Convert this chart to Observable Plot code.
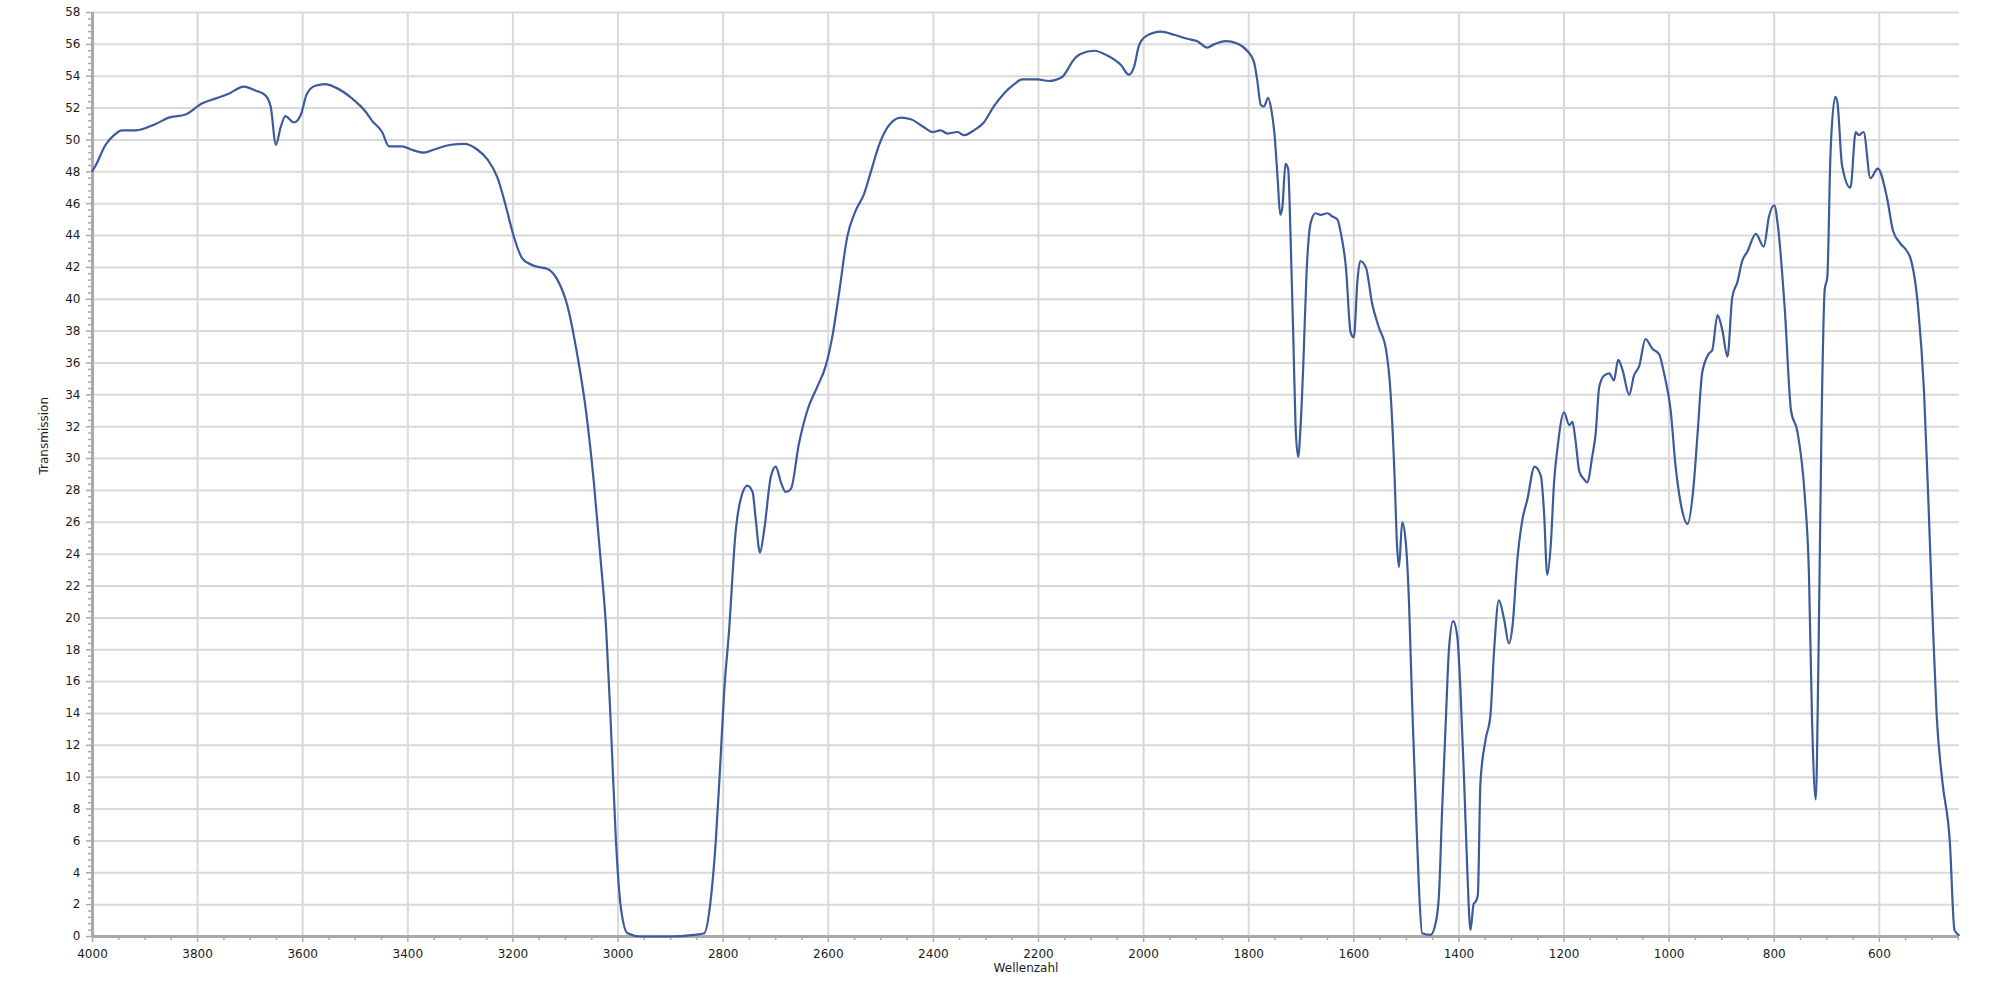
<!DOCTYPE html>
<html>
<head>
<meta charset="utf-8">
<script src="https://cdn.jsdelivr.net/npm/d3@7"></script>
<script src="https://cdn.jsdelivr.net/npm/@observablehq/plot@0.6"></script>
<style>
  html, body { margin: 0; padding: 0; background: #ffffff; }
  #chart { width: 2000px; height: 1000px; }
</style>
</head>
<body>
<div id="chart"></div>
<script>
// Wavenumbers (cm-1)
const wavenumbers = [
  4000, 3994, 3975, 3959, 3944, 3918, 3880, 3855, 3823, 3791, 3766, 3741, 3712, 3690, 3671, 3661, 3651, 3642, 3633, 3617,
  3604, 3592, 3576, 3557, 3538, 3506, 3481, 3468, 3449, 3436, 3411, 3394, 3369, 3350, 3318, 3293, 3268, 3249, 3229, 3214,
  3198, 3182, 3160, 3134, 3115, 3096, 3077, 3061, 3046, 3033, 3023, 3014, 3004, 2995, 2982, 2957, 2906, 2855, 2836, 2824,
  2814, 2806, 2798, 2789, 2776, 2767, 2754, 2744, 2738, 2730, 2722, 2709, 2700, 2690, 2681, 2671, 2656, 2640, 2621, 2605,
  2592, 2579, 2564, 2548, 2532, 2519, 2503, 2487, 2462, 2443, 2418, 2402, 2386, 2373, 2354, 2342, 2323, 2304, 2285, 2266,
  2246, 2231, 2202, 2180, 2155, 2145, 2136, 2120, 2094, 2069, 2043, 2028, 2018, 2009, 1996, 1967, 1942, 1917, 1898, 1879,
  1866, 1844, 1822, 1803, 1790, 1784, 1777, 1771, 1763, 1757, 1751, 1745, 1740, 1736, 1730, 1725, 1720, 1715, 1711, 1706,
  1701, 1696, 1690, 1682, 1673, 1663, 1650, 1641, 1631, 1625, 1615, 1606, 1600, 1593, 1588, 1577, 1565, 1552, 1539, 1530,
  1522, 1518, 1514, 1508, 1501, 1495, 1489, 1482, 1476, 1470, 1454, 1444, 1438, 1432, 1425, 1419, 1411, 1403, 1397, 1390,
  1384, 1378, 1372, 1368, 1364, 1359, 1349, 1340, 1333, 1324, 1314, 1305, 1298, 1289, 1279, 1270, 1256, 1244, 1238, 1232,
  1225, 1219, 1213, 1200, 1190, 1184, 1178, 1171, 1162, 1156, 1146, 1140, 1133, 1124, 1114, 1105, 1097, 1089, 1076, 1067,
  1057, 1045, 1032, 1019, 1010, 997, 988, 978, 965, 954, 946, 937, 924, 918, 908, 899, 889, 880, 870, 861,
  851, 835, 820, 810, 800, 793, 780, 768, 756, 742, 734, 728, 721, 716, 710, 704, 699, 693, 684, 680,
  671, 655, 645, 639, 630, 617, 603, 585, 574, 560, 547, 541, 526, 515, 506, 499, 491, 480, 466, 457,
  449
];

// Transmission values (%) at the wavenumbers above
const transmission = [
  48.06, 48.4, 49.7, 50.3, 50.6, 50.6, 51.0, 51.4, 51.6, 52.3, 52.6, 52.9, 53.35, 53.1, 52.8, 52.1, 49.7, 50.8, 51.5, 51.1,
  51.55, 52.9, 53.4, 53.5, 53.3, 52.6, 51.8, 51.2, 50.5, 49.6, 49.6, 49.4, 49.2, 49.4, 49.7, 49.75, 49.4, 48.8, 47.6, 45.9,
  43.9, 42.55, 42.1, 41.9, 41.2, 39.55, 36.4, 33.0, 28.5, 23.6, 19.5, 13.5, 6.0, 1.9, 0.2, 0.0, 0.0, 0.1, 0.2, 2.2,
  6.0, 10.5, 15.4, 19.1, 25.5, 27.4, 28.3, 27.9, 26.2, 24.1, 25.5, 28.9, 29.5, 28.5, 27.9, 28.1, 30.9, 33.0, 34.5, 35.8,
  37.7, 40.5, 43.9, 45.55, 46.6, 48.0, 49.7, 50.8, 51.4, 51.3, 50.8, 50.5, 50.6, 50.4, 50.5, 50.3, 50.6, 51.1, 52.1, 52.9,
  53.5, 53.8, 53.8, 53.7, 53.95, 54.4, 54.9, 55.4, 55.6, 55.3, 54.7, 54.1, 54.6, 55.9, 56.5, 56.8, 56.6, 56.35, 56.2, 55.8,
  56.0, 56.2, 56.05, 55.6, 54.9, 53.8, 52.2, 52.1, 52.65, 51.9, 50.4, 47.6, 45.3, 45.75, 48.5, 48.2, 43.5, 37.5, 32.2, 30.1,
  32.2, 36.0, 41.6, 44.8, 45.4, 45.3, 45.4, 45.2, 45.0, 44.2, 42.0, 37.9, 37.6, 41.2, 42.4, 42.0, 39.7, 38.2, 36.9, 34.1,
  28.5, 24.7, 23.2, 26.0, 24.7, 21.0, 14.6, 8.2, 3.0, 0.2, 0.1, 0.9, 2.6, 7.9, 13.5, 18.0, 19.8, 18.8, 15.4, 9.7,
  4.1, 0.4, 2.05, 2.2, 2.6, 9.7, 12.4, 13.9, 18.0, 21.1, 19.9, 18.4, 19.5, 23.6, 26.2, 27.4, 29.5, 28.9, 26.6, 22.7,
  24.7, 28.5, 30.5, 32.9, 32.1, 32.3, 31.1, 29.2, 28.7, 28.5, 30.2, 31.5, 34.5, 35.2, 35.35, 34.9, 36.2, 35.6, 34.0, 35.2,
  35.8, 37.5, 36.9, 36.55, 35.4, 33.0, 29.6, 27.2, 25.9, 28.1, 31.5, 35.4, 36.6, 36.8, 39.0, 38.1, 36.4, 40.1, 41.1, 42.4,
  43.0, 44.1, 43.3, 45.2, 45.9, 44.6, 39.4, 33.0, 31.7, 27.7, 22.8, 13.5, 8.6, 17.2, 32.2, 40.6, 41.4, 49.1, 52.7, 52.4,
  48.4, 47.0, 50.5, 50.3, 50.5, 47.6, 48.2, 46.3, 44.3, 43.5, 43.0, 42.6, 39.4, 34.2, 26.7, 20.3, 13.9, 9.7, 6.0, 0.4,
  0.1
];

// Axis ticks
const xTicks = [4000, 3800, 3600, 3400, 3200, 3000, 2800, 2600, 2400, 2200, 2000, 1800, 1600, 1400, 1200, 1000, 800, 600];
const yTicks = [0, 2, 4, 6, 8, 10, 12, 14, 16, 18, 20, 22, 24, 26, 28, 30, 32, 34, 36, 38, 40, 42, 44, 46, 48, 50, 52, 54, 56, 58];
const xDomain = [4000, 447.5];
const yDomain = [0, 58];
const xLabel = "Wellenzahl";
const yLabel = "Transmission";

const xMinor = d3.range(3950, 447, -50).filter(v => v % 200 !== 0);
const yMinor = d3.range(0, 146).filter(i => i % 5 !== 0).map(i => +(i * 0.4).toFixed(1));

const spectrum = wavenumbers.map((w, i) => ({w, t: transmission[i]}));

const axisGray = "#a9a9a9";
const gridGray = "#d9d9d9";
const textColor = "#1c1c1c";

const chart = Plot.plot({
  width: 2000,
  height: 1000,
  marginLeft: 92,
  marginRight: 41,
  marginTop: 12,
  marginBottom: 64,
  style: {fontFamily: "DejaVu Sans", fontSize: "12px", background: "#ffffff", color: textColor},
  x: {domain: xDomain, axis: null, label: null},
  y: {domain: yDomain, axis: null, label: null},
  marks: [
    Plot.gridX(xTicks, {stroke: gridGray, strokeOpacity: 1, strokeWidth: 2}),
    Plot.gridY(yTicks, {stroke: gridGray, strokeOpacity: 1, strokeWidth: 2}),
    Plot.axisX(xMinor, {tickSize: 4, tickFormat: () => "", label: null, stroke: axisGray, strokeWidth: 1.5}),
    Plot.axisY(yMinor, {tickSize: 4, tickFormat: () => "", label: null, stroke: axisGray, strokeWidth: 1.5}),
    Plot.axisX(xTicks, {tickSize: 6, tickPadding: 7, tickFormat: d => String(d), label: null, stroke: axisGray, strokeWidth: 1.5, fill: textColor, fontSize: 12}),
    Plot.axisY(yTicks, {tickSize: 6, tickPadding: 6, tickFormat: d => String(d), label: null, stroke: axisGray, strokeWidth: 1.5, fill: textColor, fontSize: 12}),
    Plot.ruleY([0], {stroke: axisGray, strokeWidth: 3}),
    Plot.ruleX([4000], {stroke: axisGray, strokeWidth: 3}),
    Plot.line(spectrum, {x: "w", y: "t", stroke: "#3b5b9b", strokeWidth: 2.2, strokeLinejoin: "round", curve: "monotone-x"}),
    Plot.text([xLabel], {frameAnchor: "bottom", dy: 32, fill: textColor, fontSize: 12, lineAnchor: "middle"}),
    Plot.text([yLabel], {frameAnchor: "left", dx: -48, rotate: -90, fill: textColor, fontSize: 12})
  ]
});

document.getElementById("chart").appendChild(chart);
</script>
</body>
</html>
